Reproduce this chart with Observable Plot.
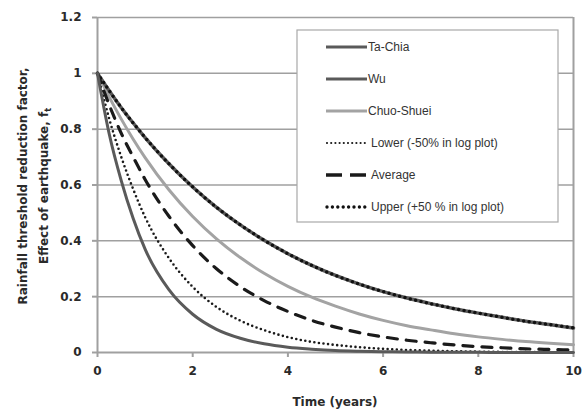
<!DOCTYPE html>
<html>
<head>
<meta charset="utf-8">
<script src="https://cdn.jsdelivr.net/npm/d3@7"></script>
<script src="https://cdn.jsdelivr.net/npm/@observablehq/plot@0.6"></script>
<style>
  html, body { margin: 0; padding: 0; background: white; }
  #chart { width: 585px; height: 412px; }
</style>
</head>
<body>
<div id="chart"></div>
<script>
// Time (years)
const t = [0, 0.25, 0.5, 0.75, 1, 1.5, 2, 2.5, 3, 3.5, 4, 4.5, 5, 5.5, 6, 6.5, 7, 7.5, 8, 8.5, 9, 9.5, 10];

const taChia = [1, 0.78, 0.615, 0.48, 0.37, 0.225, 0.137, 0.083, 0.051, 0.031, 0.019, 0.012, 0.007, 0.0045, 0.003, 0.002, 0.0012, 0.0008, 0.0005, 0.0004, 0.0003, 0.0002, 0.0001];
const wu = [1, 0.937, 0.877, 0.822, 0.77, 0.676, 0.593, 0.52, 0.457, 0.402, 0.354, 0.312, 0.276, 0.245, 0.218, 0.195, 0.175, 0.157, 0.141, 0.126, 0.112, 0.1, 0.088];
const chuoShuei = [1, 0.914, 0.836, 0.764, 0.698, 0.583, 0.487, 0.407, 0.34, 0.284, 0.237, 0.198, 0.166, 0.138, 0.115, 0.096, 0.081, 0.067, 0.056, 0.047, 0.039, 0.033, 0.028];
const lower = [1, 0.835, 0.7, 0.585, 0.485, 0.338, 0.235, 0.163, 0.114, 0.08, 0.055, 0.038, 0.027, 0.019, 0.013, 0.009, 0.0065, 0.0045, 0.003, 0.002, 0.0015, 0.001, 0.0007];
const average = [1, 0.885, 0.785, 0.7, 0.62, 0.488, 0.383, 0.3, 0.236, 0.186, 0.147, 0.115, 0.091, 0.071, 0.056, 0.044, 0.035, 0.027, 0.021, 0.017, 0.013, 0.011, 0.009];
const upper = [1, 0.937, 0.877, 0.822, 0.77, 0.676, 0.593, 0.52, 0.457, 0.402, 0.354, 0.312, 0.276, 0.245, 0.218, 0.195, 0.175, 0.157, 0.141, 0.126, 0.112, 0.1, 0.088];

const xTicks = [0, 2, 4, 6, 8, 10];
const yTicks = [0, 0.2, 0.4, 0.6, 0.8, 1, 1.2];
const seriesNames = ["Ta-Chia", "Wu", "Chuo-Shuei", "Lower (-50% in log plot)", "Average", "Upper (+50 % in log plot)"];

const rows = (vals) => t.map((x, i) => ({t: x, y: vals[i]}));

const dark = "#5a5a5a", light = "#a3a3a3", axisGray = "#a0a0a0";

const plot = Plot.plot({
  width: 585,
  height: 412,
  marginLeft: 97,
  marginRight: 12,
  marginTop: 17,
  marginBottom: 60,
  x: {domain: [0, 10]},
  y: {domain: [0, 1.2]},
  style: {fontFamily: "'DejaVu Sans', sans-serif", fontWeight: "bold", fontSize: "12px", color: "#2a2a2a", background: "white"},
  marks: [
    Plot.ruleY(yTicks.filter(d => d > 0), {stroke: axisGray, strokeWidth: 1.5}),
    Plot.ruleX([10], {stroke: axisGray, strokeWidth: 2}),
    Plot.axisX({ticks: xTicks, tickSize: 5, tickPadding: 9, stroke: axisGray, strokeWidth: 2, fill: "#2a2a2a", label: null, tickFormat: d => String(d)}),
    Plot.axisY({ticks: yTicks, tickSize: 5, tickPadding: 11, stroke: axisGray, strokeWidth: 2, fill: "#2a2a2a", label: null, tickFormat: d => String(+d.toFixed(1))}),
    Plot.ruleX([0], {stroke: axisGray, strokeWidth: 2}),
    Plot.ruleY([0], {stroke: axisGray, strokeWidth: 2}),
    Plot.line(rows(chuoShuei), {x: "t", y: "y", stroke: light, strokeWidth: 3, curve: "monotone-x"}),
    Plot.line(rows(wu), {x: "t", y: "y", stroke: dark, strokeWidth: 3.5, curve: "monotone-x"}),
    Plot.line(rows(upper), {x: "t", y: "y", stroke: "#111", strokeWidth: 3.5, strokeDasharray: "0 5.5", strokeLinecap: "round", curve: "monotone-x"}),
    Plot.line(rows(average), {x: "t", y: "y", stroke: "#1a1a1a", strokeWidth: 3.2, strokeDasharray: "10 9", curve: "monotone-x"}),
    Plot.line(rows(lower), {x: "t", y: "y", stroke: "#1a1a1a", strokeWidth: 2.6, strokeDasharray: "0 4.6", strokeLinecap: "round", curve: "monotone-x"}),
    Plot.line(rows(taChia), {x: "t", y: "y", stroke: dark, strokeWidth: 3, curve: "monotone-x"})
  ]
});

document.getElementById("chart").appendChild(plot);
const svg = d3.select(plot);

// Axis titles
const yl = svg.append("g").attr("transform", "translate(0,186) rotate(-90)")
  .attr("font-family", "'DejaVu Sans', sans-serif").attr("font-weight", "bold").attr("font-size", 12).attr("fill", "#2a2a2a").attr("text-anchor", "middle");
yl.append("text").attr("x", 0).attr("y", 27).text("Rainfall threshold reduction factor,");
const l2 = yl.append("text").attr("x", 0).attr("y", 48);
l2.append("tspan").text("Effect of earthquake, f");
l2.append("tspan").attr("font-size", 8).attr("dy", 3).text("t");

svg.append("text").attr("x", 335).attr("y", 406)
  .attr("font-family", "'DejaVu Sans', sans-serif").attr("font-weight", "bold").attr("font-size", 12).attr("fill", "#2a2a2a").attr("text-anchor", "middle")
  .text("Time (years)");

// Legend
const lg = svg.append("g").attr("text-anchor", "start").attr("font-weight", "normal");
lg.append("rect").attr("x", 297).attr("y", 30).attr("width", 261).attr("height", 192)
  .attr("fill", "white").attr("stroke", "#a8a8a8").attr("stroke-width", 1.2);
const styles = [
  {stroke: dark, w: 3, dash: null},
  {stroke: dark, w: 3, dash: null},
  {stroke: light, w: 3, dash: null},
  {stroke: "#1a1a1a", w: 2.2, dash: "0 4.2", cap: "round"},
  {stroke: "#1a1a1a", w: 3.5, dash: "16 8"},
  {stroke: "#111", w: 3.4, dash: "0 5.4", cap: "round"}
];
seriesNames.forEach((name, i) => {
  const y = 47 + i * 32;
  const s = styles[i];
  const ln = lg.append("line").attr("x1", s.cap ? 327 : 326).attr("x2", 367).attr("y1", y).attr("y2", y)
    .attr("stroke", s.stroke).attr("stroke-width", s.w);
  if (s.dash) ln.attr("stroke-dasharray", s.dash);
  if (s.cap) ln.attr("stroke-linecap", s.cap);
  lg.append("text").attr("x", i < 3 ? 368 : 371).attr("y", y).attr("dy", "0.35em")
    .attr("text-anchor", "start").attr("font-weight", "normal")
    .attr("font-family", "'Liberation Sans', sans-serif").attr("font-size", 12).attr("fill", "#333")
    .text(name);
});
</script>
</body>
</html>
